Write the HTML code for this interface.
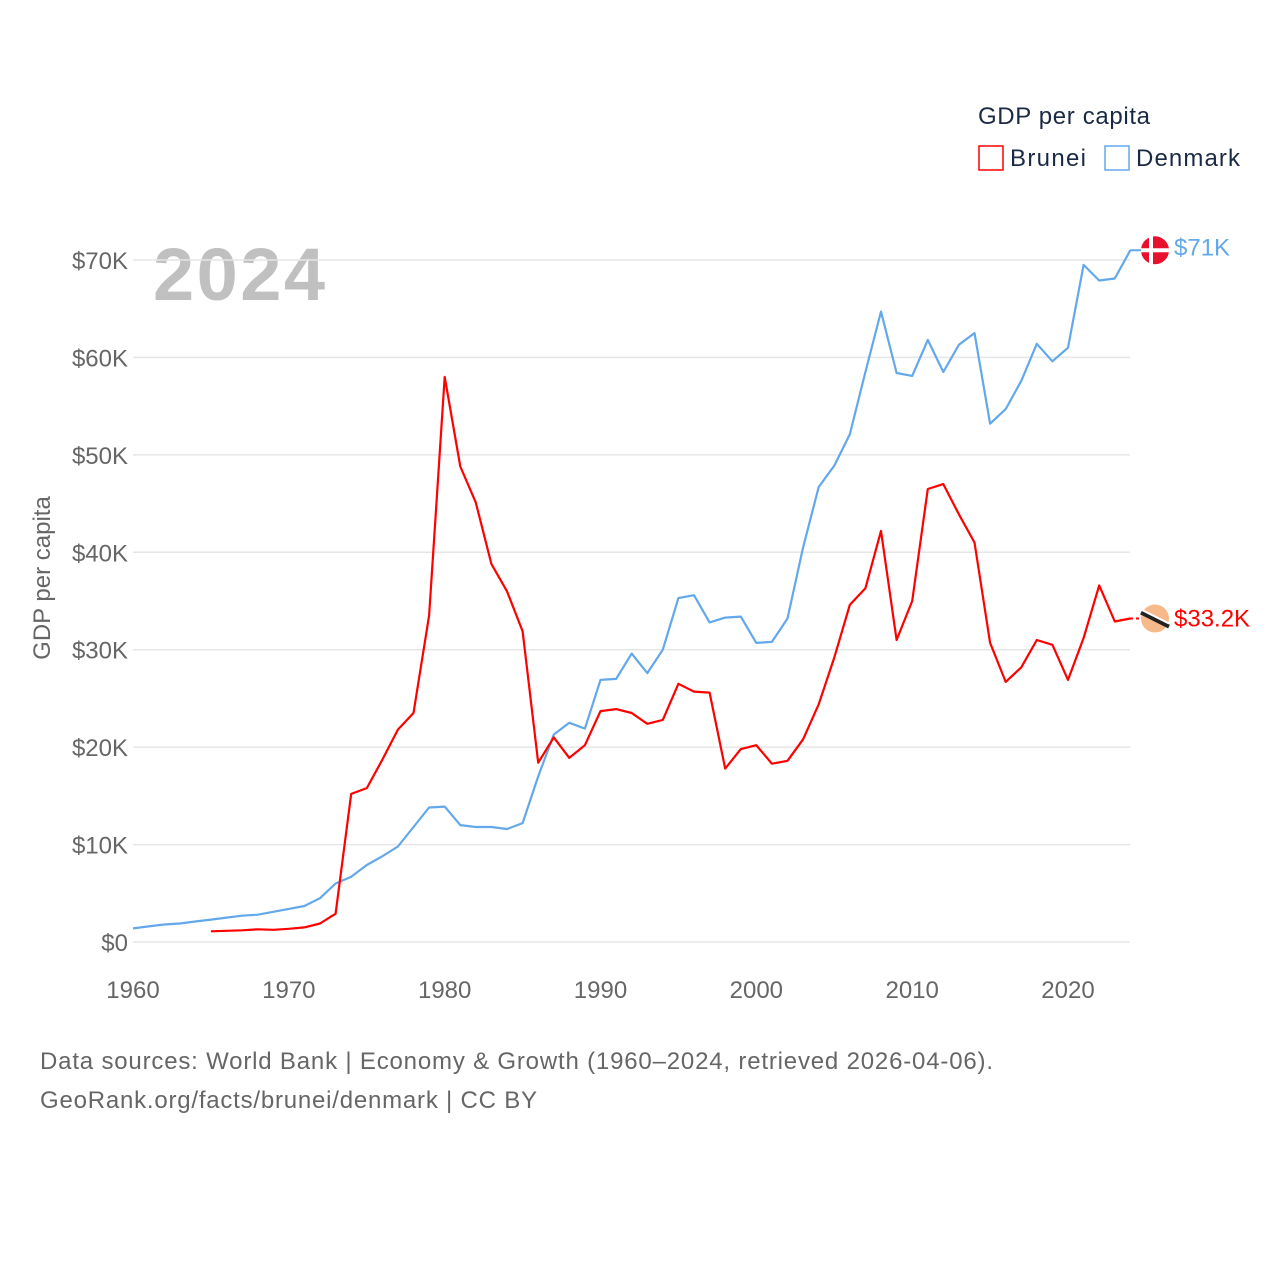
<!DOCTYPE html>
<html><head><meta charset="utf-8"><style>
body{margin:0;background:#fff;font-family:"Liberation Sans",sans-serif}
svg text{font-family:"Liberation Sans",sans-serif}
</style></head><body>
<svg id="chart" width="1280" height="1280" xmlns="http://www.w3.org/2000/svg">
<text x="978" y="124" font-size="24" fill="#1b2a44" textLength="172">GDP per capita</text>
<g><rect x="979" y="146" width="24" height="24" fill="none" stroke="#ff0000" stroke-width="1.5"/><text x="1010" y="166" font-size="24" fill="#1b2a44" textLength="76">Brunei</text></g>
<g><rect x="1105" y="146" width="24" height="24" fill="none" stroke="#62a8ea" stroke-width="1.5"/><text x="1136" y="166" font-size="24" fill="#1b2a44" textLength="104">Denmark</text></g>
<text x="153" y="300" font-size="74" font-weight="bold" fill="#c0c0c0" textLength="172">2024</text>
<g id="grid"></g>
<g id="yticks"></g>
<g id="xticks"></g>
<text transform="translate(50,578) rotate(-90)" text-anchor="middle" font-size="24" fill="#666">GDP per capita</text>
<g id="series"></g>
<text x="40" y="1069" font-size="24" fill="#666" textLength="953">Data sources: World Bank | Economy &amp; Growth (1960–2024, retrieved 2026-04-06).</text>
<text x="40" y="1108" font-size="24" fill="#666" textLength="497">GeoRank.org/facts/brunei/denmark | CC BY</text>
</svg>
<script>
const yTicks=[0,10,20,30,40,50,60,70];
const xTicks=[1960,1970,1980,1990,2000,2010,2020];
const denmarkStart=1960;
const denmark=[1.4,1.6,1.8,1.9,2.1,2.3,2.5,2.7,2.8,3.1,3.4,3.7,4.5,6.0,6.7,7.9,8.8,9.8,11.8,13.8,13.9,12.0,11.8,11.8,11.6,12.2,17.0,21.3,22.5,21.9,26.9,27.0,29.6,27.6,30.0,35.3,35.6,32.8,33.3,33.4,30.7,30.8,33.2,40.5,46.7,48.9,52.1,58.5,64.7,58.4,58.1,61.8,58.5,61.3,62.5,53.2,54.7,57.6,61.4,59.6,61.0,69.5,67.9,68.1,71.0];
const bruneiStart=1965;
const brunei=[1.1,1.15,1.2,1.3,1.25,1.35,1.5,1.9,2.9,15.2,15.8,18.7,21.8,23.5,33.5,58.0,48.8,45.1,38.8,36.0,31.9,18.4,21.0,18.9,20.2,23.7,23.9,23.5,22.4,22.8,26.5,25.7,25.6,17.8,19.8,20.2,18.3,18.6,20.8,24.4,29.2,34.6,36.3,42.2,31.0,35.0,46.5,47.0,43.9,41.0,30.7,26.7,28.2,31.0,30.5,26.9,31.2,36.6,32.9,33.2];
const endLabels=["$71K","$33.2K"];
const NS="http://www.w3.org/2000/svg";
const X=y=>133+(y-1960)*(1068-133)/60;
const Y=v=>942-v*(942-260)/70;
function mk(t,a,p){const e=document.createElementNS(NS,t);for(const k in a)e.setAttribute(k,a[k]);p.appendChild(e);return e;}
const grid=document.getElementById('grid'),yt=document.getElementById('yticks'),xt=document.getElementById('xticks'),ser=document.getElementById('series');
yTicks.forEach(v=>{
 const l=mk('line',{x1:133,x2:1130,y1:Y(v),y2:Y(v),stroke:'#e6e6e6','stroke-width':1.5},grid);
 
 
 const t=mk('text',{x:128,y:Y(v)+9,'text-anchor':'end','font-size':24,fill:'#666'},yt);
 t.textContent='$'+v+(v?'K':'');
 
 
});
xTicks.forEach(v=>{
 const t=mk('text',{x:X(v),y:998,'text-anchor':'middle','font-size':24,fill:'#666'},xt);
 t.textContent=v;
 
 
});
function line(arr,start,color,name){
 const d=arr.map((v,i)=>(i?'L':'M')+X(start+i).toFixed(1)+','+Y(v).toFixed(1)).join('');
 const p=mk('path',{d:d,fill:'none',stroke:color,'stroke-width':2.2,'stroke-linejoin':'round'},ser);
 
 
 return Y(arr[arr.length-1]);
}
const dy=line(denmark,denmarkStart,'#62a8ea','denmark-line');
const by=line(brunei,bruneiStart,'#ff0000','brunei-line');
mk('line',{x1:1130,x2:1142,y1:dy,y2:dy,stroke:'#62a8ea','stroke-width':2},ser);
mk('line',{x1:1130,x2:1142,y1:by,y2:by,stroke:'#ff0000','stroke-width':2,'stroke-dasharray':'3,3'},ser);
const df=mk('g',{},ser);


mk('circle',{cx:1155,cy:dy,r:14,fill:'#e8112d'},df);
mk('rect',{x:1149,y:dy-14,width:4,height:28,fill:'#fff'},df);
mk('rect',{x:1141,y:dy-2,width:28,height:4,fill:'#fff'},df);
const bf=mk('g',{},ser);


mk('circle',{cx:1155,cy:by,r:14,fill:'#f7b98a'},bf);
mk('line',{x1:1141,y1:by-6,x2:1169,y2:by+8,stroke:'#222','stroke-width':4},bf);
mk('line',{x1:1141,y1:by-9,x2:1169,y2:by+5,stroke:'#fff','stroke-width':2},bf);
const t1=mk('text',{x:1174,y:dy+5,'font-size':24,fill:'#62a8ea'},ser);t1.textContent=endLabels[0];


const t2=mk('text',{x:1174,y:by+8,'font-size':24,fill:'#ff0000'},ser);t2.textContent=endLabels[1];


</script>
</body></html>
